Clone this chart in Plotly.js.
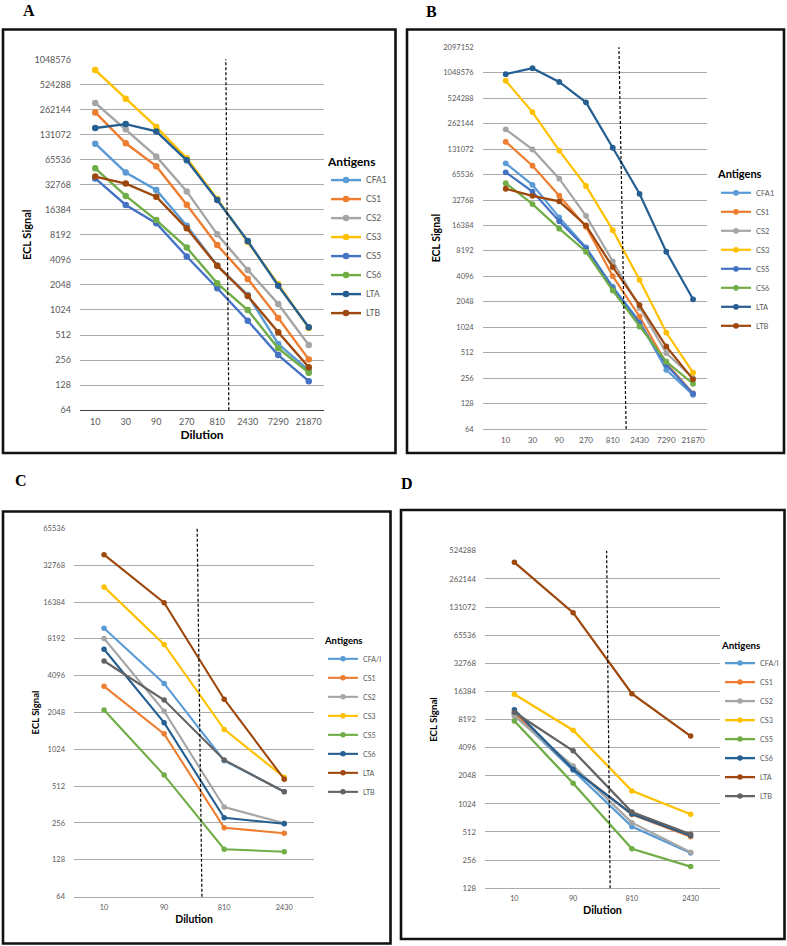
<!DOCTYPE html>
<html><head><meta charset="utf-8">
<script src="https://cdn.plot.ly/plotly-3.0.1.min.js"></script>
<style>html,body{margin:0;padding:0;background:#fff}</style>
</head><body><div id="chart" style="width:787px;height:946px"></div>
<script>
// ---------- data ----------
const dilutionsAB = ["10","30","90","270","810","2430","7290","21870"];
const dilutionsCD = ["10","90","810","2430"];
const antigensAB = ["CFA1","CS1","CS2","CS3","CS5","CS6","LTA","LTB"];
const antigensCD = ["CFA/I","CS1","CS2","CS3","CS5","CS6","LTA","LTB"];
const yTicksA = [64,128,256,512,1024,2048,4096,8192,16384,32768,65536,131072,262144,524288,1048576];
const yTicksB = [64,128,256,512,1024,2048,4096,8192,16384,32768,65536,131072,262144,524288,1048576,2097152];
const yTicksC = [64,128,256,512,1024,2048,4096,8192,16384,32768,65536];
const yTicksD = [128,256,512,1024,2048,4096,8192,16384,32768,65536,131072,262144,524288];

// Panel A
const A_CFA1 = [102000, 46000, 28300, 10500, 3500, 1550, 400, 192];
const A_CS1  = [242000, 103000, 54700, 18800, 6160, 2420, 820, 261];
const A_CS2  = [314000, 152000, 71600, 27200, 8300, 3100, 1210, 388];
const A_CS3  = [780000, 353000, 162000, 68000, 22000, 6700, 2090, 620];
const A_CS5  = [39000, 18700, 11300, 4500, 1870, 760, 294, 143];
const A_CS6  = [51500, 24000, 12300, 5750, 2140, 1024, 355, 181];
const A_LTA  = [157000, 175000, 143000, 64200, 21500, 6900, 2000, 635];
const A_LTB  = [41000, 33800, 23500, 9800, 3490, 1510, 553, 210];
// Panel B
const B_CFA1 = [89000, 49600, 20400, 9000, 3080, 1190, 320, 162];
const B_CS1  = [160000, 83400, 36800, 15800, 4120, 1370, 383, 169];
const B_CS2  = [225000, 130000, 58600, 21300, 6160, 1730, 505, 256];
const B_CS3  = [846000, 360000, 126000, 48000, 14400, 3720, 885, 296];
const B_CS5  = [69700, 41200, 18400, 8800, 2960, 1140, 367, 167];
const B_CS6  = [51800, 29300, 15000, 8000, 2780, 1040, 400, 219];
const B_LTA  = [1010000, 1190000, 818000, 469000, 136000, 38800, 8000, 2190];
const B_LTB  = [44500, 36700, 31600, 16400, 5260, 1870, 605, 247];
// Panel C
const C_CFAI = [10000, 3540, 826, 461];
const C_CS1  = [3350, 1370, 234, 211];
const C_CS2  = [8250, 2100, 345, 254];
const C_CS3  = [21800, 7380, 1490, 604];
const C_CS5  = [2150, 630, 156, 149];
const C_CS6  = [6740, 1690, 282, 252];
const C_LTA  = [40000, 16200, 2630, 583];
const C_LTB  = [5400, 2590, 838, 461];
// Panel D
const D_CFAI = [9350, 2350, 584, 305];
const D_CS1  = [9700, 2450, 790, 456];
const D_CS2  = [8900, 2610, 644, 311];
const D_CS3  = [15300, 6300, 1410, 793];
const D_CS5  = [7900, 1700, 338, 218];
const D_CS6  = [10400, 2400, 797, 468];
const D_LTA  = [395000, 114000, 15500, 5440];
const D_LTB  = [9800, 3790, 838, 484];

// ---------- styles ----------
const colorsAB = ["#5B9BD5","#ED7D31","#A5A5A5","#FFC000","#4472C4","#70AD47","#255E91","#9E480E"];
const colorsCD = ["#5B9BD5","#ED7D31","#A5A5A5","#FFC000","#70AD47","#255E91","#9E480E","#636363"];
const FONT = "Lato, 'Open Sans', sans-serif";
const W = 787, H = 946;
const px = x => x / W, py = y => 1 - y / H;

const panels = [
  {xa:'x',  ya:'y',  legend:'legend',  cats:dilutionsAB, names:antigensAB, colors:colorsAB,
   series:[A_CFA1,A_CS1,A_CS2,A_CS3,A_CS5,A_CS6,A_LTA,A_LTB], msize:6.5, lw:2.4},
  {xa:'x2', ya:'y2', legend:'legend2', cats:dilutionsAB, names:antigensAB, colors:colorsAB,
   series:[B_CFA1,B_CS1,B_CS2,B_CS3,B_CS5,B_CS6,B_LTA,B_LTB], msize:5.8, lw:2.2},
  {xa:'x3', ya:'y3', legend:'legend3', cats:dilutionsCD, names:antigensCD, colors:colorsCD,
   series:[C_CFAI,C_CS1,C_CS2,C_CS3,C_CS5,C_CS6,C_LTA,C_LTB], msize:5.5, lw:2.1},
  {xa:'x4', ya:'y4', legend:'legend4', cats:dilutionsCD, names:antigensCD, colors:colorsCD,
   series:[D_CFAI,D_CS1,D_CS2,D_CS3,D_CS5,D_CS6,D_LTA,D_LTB], msize:5.5, lw:2.3}
];

const traces = [];
panels.forEach(p => {
  p.series.forEach((vals, i) => {
    traces.push({
      type:'scatter', mode:'lines+markers', x:p.cats, y:vals, name:p.names[i],
      xaxis:p.xa, yaxis:p.ya, legend:p.legend,
      line:{color:p.colors[i], width:p.lw},
      marker:{color:p.colors[i], size:p.msize, symbol:'circle'},
      hoverinfo:'skip'
    });
  });
});

function xAx(l, r, range, anchor, tickSize, title, titleSize, standoff, lineColor) {
  const a = {domain:[px(l), px(r)], type:'category', range:range, anchor:anchor,
    showgrid:false, zeroline:false, showline:true, linecolor:lineColor, linewidth:1.1,
    ticks:'', ticklabelstandoff:3, tickfont:{family:FONT, size:tickSize, color:'#595959'}, fixedrange:true};
  if (title) a.title = {text:title, font:{family:FONT, size:titleSize, color:'#000'}, standoff:standoff};
  return a;
}
function yAx(top, bot, ticks, anchor, tickSize, title, titleSize, standoff) {
  const lo = Math.log10(ticks[0]) - 0.001, hi = Math.log10(ticks[ticks.length-1]) + 0.001;
  return {domain:[py(bot), py(top)], type:'log', range:[lo, hi], anchor:anchor,
    tickvals:ticks, ticktext:ticks.map(String), showgrid:true, gridcolor:'#ABABAB', gridwidth:1,
    zeroline:false, showline:false, ticks:'', ticklabelstandoff:8,
    tickfont:{family:FONT, size:tickSize, color:'#595959'}, fixedrange:true,
    title:{text:title, font:{family:FONT, size:titleSize, color:'#000'}, standoff:standoff}};
}
function leg(x, y, titleSize, fontSize) {
  return {x:px(x), y:py(y), xanchor:'left', yanchor:'top', bgcolor:'rgba(0,0,0,0)',
    title:{text:'<b>Antigens</b>', font:{family:FONT, size:titleSize, color:'#000'}},
    font:{family:FONT, size:fontSize, color:'#595959'}, itemwidth:30, tracegroupgap:0};
}

const frame = (x0,y0,x1,y1) => ({type:'rect', xref:'paper', yref:'paper',
  x0:px(x0), x1:px(x1), y0:py(y1), y1:py(y0), line:{color:'#111', width:2.6}, fillcolor:'rgba(0,0,0,0)'});
const dash = (xr, yr, xb, xt) => ({type:'line', xref:xr, yref:yr + ' domain',
  x0:xb, y0:0, x1:xt, y1:1, line:{color:'#000', width:1.2, dash:'3px,2px'}});
const label = (t, x, y, anchor) => ({text:'<b>'+t+'</b>', xref:'paper', yref:'paper', x:px(x), y:py(y),
  xanchor:'center', yanchor:anchor, showarrow:false, borderpad:0,
  font:{family:"'Liberation Serif', 'DejaVu Serif', serif", size:16, color:'#000'}});

const layout = {
  width:W, height:H, margin:{l:0, r:0, t:0, b:0},
  paper_bgcolor:'#fff', plot_bgcolor:'rgba(0,0,0,0)', showlegend:true,
  xaxis:  xAx(80, 324, [-0.5, 7.5], 'y', 9, '<b>Dilution</b>', 12, 3, '#404040'),
  yaxis:  yAx(59.3, 410.3, yTicksA, 'x', 9, '<b>ECL Signal</b>', 11, 0),
  xaxis2: xAx(482.7, 706.7, [-0.86, 7.51], 'y2', 8, null, 0, 0, '#ABABAB'),
  yaxis2: yAx(47.3, 429, yTicksB, 'x2', 7.5, '<b>ECL Signal</b>', 10.5, 0),
  xaxis3: xAx(74, 314.3, [-0.5, 3.5], 'y3', 7.3, '<b>Dilution</b>', 10.5, 5, '#ABABAB'),
  yaxis3: yAx(528.3, 896.7, yTicksC, 'x3', 7.5, '<b>ECL Signal</b>', 9.5, 1),
  xaxis4: xAx(485, 720, [-0.5, 3.5], 'y4', 7.3, '<b>Dilution</b>', 10.8, 4, '#ABABAB'),
  yaxis4: yAx(550.7, 888.3, yTicksD, 'x4', 7.7, '<b>ECL Signal</b>', 9.7, 9),
  legend:  leg(326, 150, 12, 8.5),
  legend2: leg(716, 164, 11, 7.5),
  legend3: leg(323, 632, 9.5, 7),
  legend4: leg(720, 636, 9.7, 7.2),
  shapes: [
    frame(3, 29.5, 395.5, 453),
    frame(407, 29.5, 784, 453),
    frame(3, 511.5, 390.5, 943.5),
    frame(401, 510, 784.5, 939),
    dash('x', 'y', 4.38, 4.28),
    dash('x2', 'y2', 4.5, 4.23),
    dash('x3', 'y3', 1.63, 1.55),
    dash('x4', 'y4', 1.63, 1.57)
  ],
  annotations: [label('A', 29, 1, 'top'), label('B', 431, 2, 'top'),
                label('C', 20.7, 480.5, 'middle'), label('D', 406.7, 483.7, 'middle')]
};

Plotly.newPlot('chart', traces, layout, {displayModeBar:false, staticPlot:true});
</script>
</body></html>
